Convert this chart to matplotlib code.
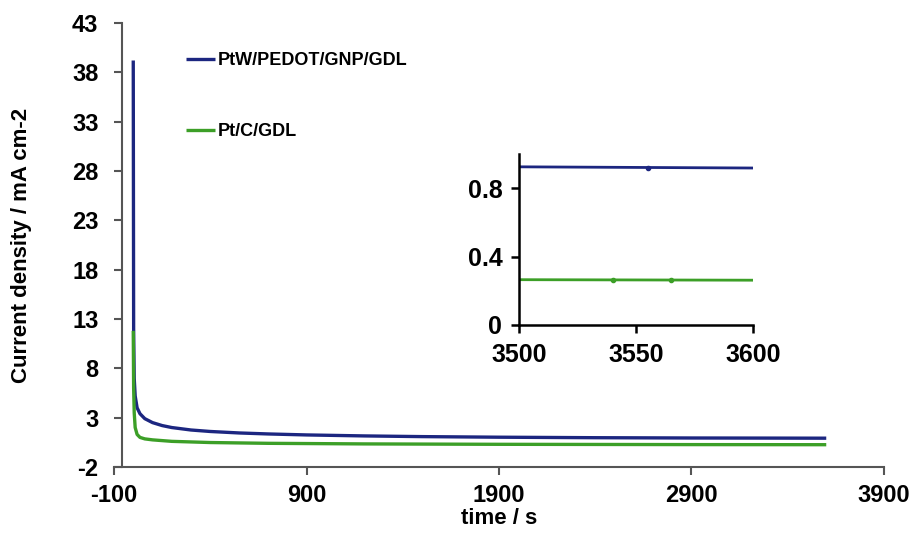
import matplotlib
matplotlib.use("Agg")
import matplotlib.pyplot as plt
from matplotlib.ticker import FixedLocator, FixedFormatter

plt.rcParams['font.family'] = ['Liberation Sans', 'DejaVu Sans']
plt.rcParams['font.weight'] = 'bold'
plt.rcParams['axes.unicode_minus'] = False

# ---- data ----
series_names = ["PtW/PEDOT/GNP/GDL", "Pt/C/GDL"]
blue_t = [0, 2, 5, 10, 20, 35, 60, 100, 150, 200, 300, 400, 550, 700, 900,
          1200, 1500, 1900, 2400, 2900, 3300, 3600]
blue_j = [39.2, 12, 7, 5.2, 4.0, 3.4, 2.9, 2.5, 2.2, 2.0, 1.75, 1.6, 1.45, 1.35,
          1.25, 1.15, 1.08, 1.02, 0.97, 0.94, 0.93, 0.92]
green_t = [0, 2, 5, 10, 20, 35, 60, 100, 200, 400, 700, 1200, 1900, 2900, 3600]
green_j = [11.8, 6, 3.5, 2.0, 1.3, 1.0, 0.85, 0.75, 0.6, 0.48, 0.4, 0.34, 0.3,
           0.27, 0.26]

inset_t = [3500, 3600]
inset_blue = [0.925, 0.918]
inset_green = [0.265, 0.262]
inset_blue_mark_t = [3555]
inset_blue_mark_j = [0.921]
inset_green_mark_t = [3540, 3565]
inset_green_mark_j = [0.264, 0.263]

x_ticks = [-100, 900, 1900, 2900, 3900]
y_ticks = [-2, 3, 8, 13, 18, 23, 28, 33, 38, 43]
inset_x_ticks = [3500, 3550, 3600]
inset_y_ticks = [0, 0.4, 0.8]
inset_y_labels = ["0", "0.4", "0.8"]

BLUE = '#1c2680'
GREEN = '#3c9f27'
SPINE = '#555555'

fig = plt.figure(figsize=(9.17, 5.33), dpi=100)
ax = fig.add_axes([114/917, 1-467/533, (884-114)/917, (467-23)/533])

ax.plot(blue_t, blue_j, color=BLUE, lw=2.4, label=series_names[0], solid_capstyle='butt')
ax.plot(green_t, green_j, color=GREEN, lw=2.4, label=series_names[1], solid_capstyle='butt')

ax.set_xlim(-100, 3900)
ax.set_ylim(-2, 43)
ax.set_xticks(x_ticks)
ax.set_yticks(y_ticks)
ax.spines['top'].set_visible(False)
ax.spines['right'].set_visible(False)
ax.spines['left'].set_position(('data', -58))
for s in ['left', 'bottom']:
    ax.spines[s].set_color(SPINE)
    ax.spines[s].set_linewidth(1.5)
ax.tick_params(axis='both', direction='out', length=6, width=1.5, color=SPINE,
               labelsize=17)
ax.tick_params(axis='y', pad=11)
ax.tick_params(axis='x', pad=6)
for lab in ax.get_xticklabels() + ax.get_yticklabels():
    lab.set_fontweight('bold')

ax.set_xlabel("time / s", fontsize=16, fontweight='bold', labelpad=1)
fig.text(22/917, 1-245/533, "Current density / mA cm-2", rotation=90,
         fontsize=16, fontweight='bold', ha='center', va='center')

leg = ax.legend(loc='upper left', bbox_to_anchor=(186/917, 1-52/533),
                bbox_transform=fig.transFigure, frameon=False,
                handlelength=1.6, handletextpad=0.15, labelspacing=3.0,
                prop={'size': 13, 'weight': 'bold'}, borderpad=0, borderaxespad=0)

# ---- inset ----
ax2 = fig.add_axes([519/917, 1-325/533, (753-519)/917, (325-154)/533])
ax2.plot(inset_t, inset_blue, color=BLUE, lw=2.0)
ax2.plot(inset_t, inset_green, color=GREEN, lw=2.0)
ax2.plot(inset_blue_mark_t, inset_blue_mark_j, 'o', color=BLUE, ms=3)
ax2.plot(inset_green_mark_t, inset_green_mark_j, 'o', color=GREEN, ms=3)
ax2.set_xlim(3500, 3600)
ax2.set_ylim(0, 1.0)
ax2.xaxis.set_major_locator(FixedLocator(inset_x_ticks))
ax2.yaxis.set_major_locator(FixedLocator(inset_y_ticks))
ax2.yaxis.set_major_formatter(FixedFormatter(inset_y_labels))
ax2.spines['top'].set_visible(False)
ax2.spines['right'].set_visible(False)
for s in ['left', 'bottom']:
    ax2.spines[s].set_color('black')
    ax2.spines[s].set_linewidth(1.8)
ax2.tick_params(axis='both', direction='out', length=6, width=1.8, color='black',
                labelsize=18)
ax2.tick_params(axis='y', pad=6)
ax2.tick_params(axis='x', pad=7)
for lab in ax2.get_xticklabels() + ax2.get_yticklabels():
    lab.set_fontweight('bold')
ax2.patch.set_alpha(0)

fig.savefig("out.png", dpi=100)
